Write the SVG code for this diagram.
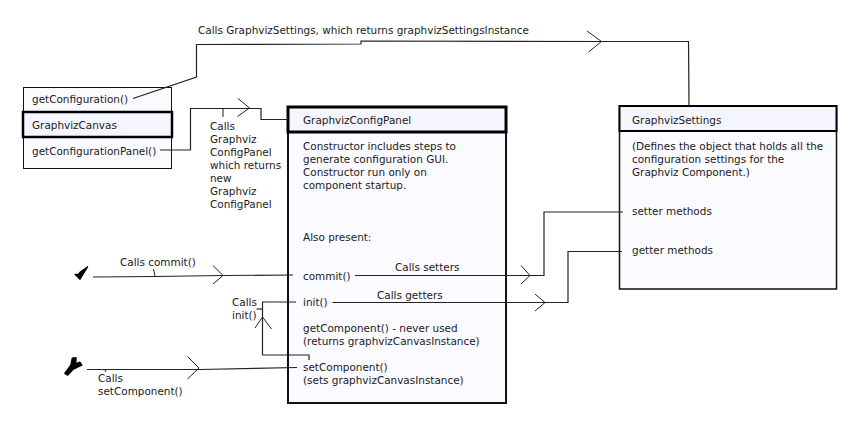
<svg xmlns="http://www.w3.org/2000/svg" width="850" height="428" viewBox="0 0 850 428">
<style>
text{font-family:"DejaVu Sans",sans-serif;font-size:10.45px;fill:#1a1a1a}
.box{fill:#fbfbff;stroke:#111}
.head{fill:#f5f5ff;stroke:#000}
.c{fill:none;stroke:#222;stroke-width:1.2}
.a{fill:none;stroke:#222;stroke-width:1}
</style>
<rect width="850" height="428" fill="#fff"/>
<g id="getConfiguration">
<rect class="box" x="23.500" y="87.500" width="148" height="81"/>
<text x="32" y="103">getConfiguration()</text>
<text x="32" y="155">getConfigurationPanel()</text>
</g>
<g id="GraphvizCanvas">
<rect class="head" x="23" y="112" width="149" height="25" stroke-width="2.500"/>
<text x="32" y="129">GraphvizCanvas</text>
</g>
<g id="GraphvizConfigPanel">
<rect class="box" x="288" y="107" width="218" height="296" stroke-width="2"/>
<rect class="head" x="288" y="107" width="218" height="25" stroke-width="3"/>
<text x="303" y="124">GraphvizConfigPanel</text>
<text x="303" y="150">Constructor includes steps to</text>
<text x="303" y="163">generate configuration GUI.</text>
<text x="303" y="176">Constructor run only on</text>
<text x="303" y="189">component startup.</text>
<text x="303" y="241">Also present:</text>
<text x="303" y="280">commit()</text>
<text x="303" y="306">init()</text>
<text x="303" y="332">getComponent() - never used</text>
<text x="303" y="345">(returns graphvizCanvasInstance)</text>
<text x="303" y="371">setComponent()</text>
<text x="303" y="384">(sets graphvizCanvasInstance)</text>
</g>
<g id="GraphvizSettings">
<rect class="box" x="619.500" y="106" width="217" height="183" stroke-width="1.500"/>
<rect class="head" x="619.500" y="106" width="217" height="25" stroke-width="2"/>
<text x="632" y="124">GraphvizSettings</text>
<text x="632" y="150">(Defines the object that holds all the</text>
<text x="632" y="163">configuration settings for the</text>
<text x="632" y="176">Graphviz Component.)</text>
<text x="632" y="215">setter methods</text>
<text x="632" y="254">getter methods</text>
</g>
<g id="actor1"><path d="M75 274.300 80 279.300 87.700 266.700 80 272.300 78.300 274.300Z" fill="#000" stroke="#000" stroke-width="1.200" stroke-linejoin="round"/></g>
<g id="actor2"><path d="M65 373.300 67.700 375 73.300 369 81.700 365 80 362.300 75.700 364 76 357.700 72.300 358.300 71 365Z" fill="#000" stroke="#000" stroke-width="1.500" stroke-linejoin="round"/></g>
<g id="connectors">
<path class="c" d="M133 98.500L196.500 77V44.500L361 44 361 41 600 41.500H688.500L689 105"/>
<path class="a" d="M587 31 601.500 41.500 588.500 52"/>
<path class="c" d="M160 150H190.500V108.500H261V119.500H288"/>
<path class="a" d="M238 98.500 249.500 108 237.500 116.500"/>
<path class="a" d="M223 109V117"/>
<path class="c" d="M93 277 155 276.500 223 275.500 293 275"/>
<path class="a" d="M153.500 269 155 276"/>
<path class="a" d="M213 265.500 223 275.500 213 284"/>
<path class="c" d="M355 275.500H544V212H623"/>
<path class="a" d="M521 265.500 530 275.500 521 284"/>
<path class="c" d="M332.500 302.500 568 302.500V251.500H622"/>
<path class="a" d="M535 294 545 302.500 535 311"/>
<path class="c" d="M296 302H262.500V355H309V360"/>
<path class="c" d="M256.500 309H262.500"/>
<path class="a" d="M255 328 262.500 317 271.500 329"/>
<path class="c" d="M87 369.500H200L297 367.500"/>
<path class="a" d="M187.500 356.500 199 368 187.500 379"/>
<path class="a" d="M105 370 106 372"/>
</g>
<g id="labels">
<text x="198" y="34">Calls GraphvizSettings, which returns graphvizSettingsInstance</text>
<text x="210" y="130">Calls</text>
<text x="210" y="143">Graphviz</text>
<text x="210" y="156">ConfigPanel</text>
<text x="210" y="169">which returns</text>
<text x="210" y="182">new</text>
<text x="210" y="195">Graphviz</text>
<text x="210" y="208">ConfigPanel</text>
<text x="120" y="266">Calls commit()</text>
<text x="395" y="271">Calls setters</text>
<text x="377" y="299">Calls getters</text>
<text x="232" y="306">Calls</text>
<text x="232" y="319">init()</text>
<text x="98" y="382">Calls</text>
<text x="98" y="395">setComponent()</text>
</g>
</svg>
